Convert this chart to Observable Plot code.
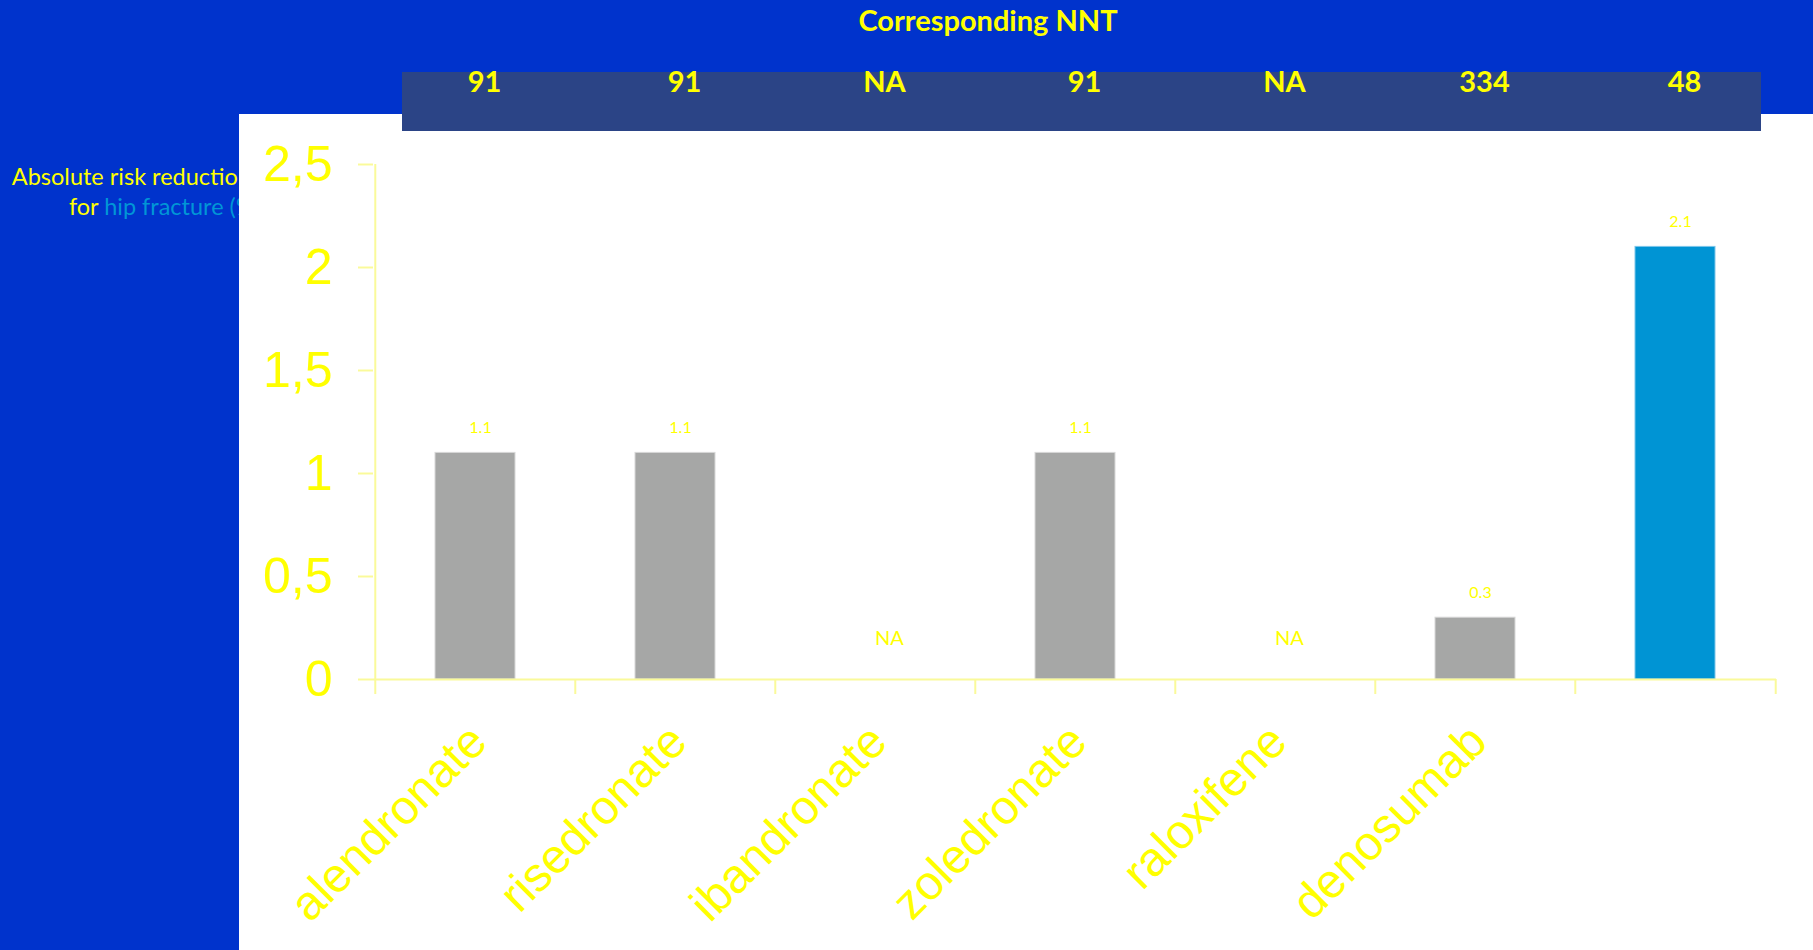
<!DOCTYPE html>
<html>
<head>
<meta charset="utf-8">
<script src="https://cdn.jsdelivr.net/npm/d3@7"></script>
<script src="https://cdn.jsdelivr.net/npm/@observablehq/plot@0.6"></script>
<style>
  html, body { margin: 0; padding: 0; }
  body { width: 1813px; height: 950px; background: #0033CC; position: relative; overflow: hidden; font-family: Lato, "Liberation Sans", sans-serif; }
  #ylabel { position: absolute; left: 0; top: 161px; width: 261px; text-align: right; font-size: 23.5px; line-height: 30px; color: #FFFF00; z-index: 1; white-space: nowrap; }
  #ylabel div.l1 { padding-right: 10px; }
  #ylabel .hl { color: #0096D6; }
  #panel { position: absolute; left: 239px; top: 114px; right: 0; bottom: 0; background: #FFFFFF; z-index: 2; }
  #band { position: absolute; left: 402px; top: 72px; width: 1359px; height: 59px; background: #2B4486; z-index: 3; }
  #title { position: absolute; left: 788px; top: 2px; width: 400px; text-align: center; font-size: 29px; font-weight: bold; color: #FFFF00; z-index: 4; }
  #chart { position: absolute; left: 0; top: 0; z-index: 5; }
</style>
</head>
<body>
<div id="ylabel"><div class="l1">Absolute risk reduction</div><div>for <span class="hl">hip fracture (%)</span></div></div>
<div id="panel"></div>
<div id="band"></div>
<div id="title">Corresponding NNT</div>
<div id="chart"></div>
<script>
// ---- data ----
const drugs = ["alendronate", "risedronate", "ibandronate", "zoledronate", "raloxifene", "denosumab", "new"];
const drugLabels = ["alendronate", "risedronate", "ibandronate", "zoledronate", "raloxifene", "denosumab", ""];
const arrValues = [1.1, 1.1, null, 1.1, null, 0.3, 2.1];
const nntValues = ["91", "91", "NA", "91", "NA", "334", "48"];
const highlighted = [false, false, false, false, false, false, true];
const yTicks = [0, 0.5, 1, 1.5, 2, 2.5];

const rows = drugs.map((d, i) => ({drug: d, label: drugLabels[i], arr: arrValues[i], nnt: nntValues[i], hl: highlighted[i]}));
const withValue = rows.filter(r => r.arr != null);
const missing = rows.filter(r => r.arr == null);

// ---- layout ----
const W = 1813, H = 950;
const mL = 373, mR = 37, mT = 164, mB = 271;
const padIn = 0.6, padOut = 0.3;
const step = (W - mL - mR) / (drugs.length - padIn + 2 * padOut);
const yellow = "#FFFF00";
const axisColor = "#FAFA9A";

const chart = Plot.plot({
  width: W,
  height: H,
  marginLeft: mL,
  marginRight: mR,
  marginTop: mT,
  marginBottom: mB,
  style: {background: "transparent", fontFamily: "Liberation Sans, Arial, sans-serif", color: yellow},
  x: {domain: drugs, paddingInner: padIn, paddingOuter: padOut},
  y: {domain: [0, 2.5]},
  marks: [
    // y axis line
    Plot.ruleX([drugs[0]], {x: d => d, dx: -step / 2, stroke: axisColor, strokeWidth: 2}),
    // y axis ticks + labels
    Plot.axisY({ticks: yTicks, tickSize: 15, tickPadding: 26, tickFormat: d => String(d).replace(".", ","),
      stroke: axisColor, strokeWidth: 2, fill: yellow, fontSize: 50, label: null}),
    // bars
    Plot.barY(withValue, {x: "drug", y: "arr", fill: d => d.hl ? "#0094D4" : "#A6A7A6",
      stroke: d => d.hl ? "#7CC6EA" : "#D8D8D8", strokeWidth: 1}),
    // baseline
    Plot.ruleY([0], {stroke: axisColor, strokeWidth: 2}),
    // x ticks at band boundaries
    Plot.axisX(drugs, {tickSize: 15, dx: -step / 2, tickFormat: () => "", stroke: axisColor, strokeWidth: 2, label: null}),
    Plot.axisX([drugs[drugs.length - 1]], {tickSize: 15, dx: step / 2, tickFormat: () => "", stroke: axisColor, strokeWidth: 2, label: null}),
    // x labels
    Plot.text(rows, {x: "drug", text: "label", frameAnchor: "bottom", dx: 3, dy: 54, rotate: -45,
      textAnchor: "end", lineAnchor: "middle", fontSize: 48, fill: yellow}),
    // value labels
    Plot.text(withValue, {x: "drug", y: "arr", text: d => d.arr.toFixed(1), dx: 5, dy: -25,
      fontSize: 16, fill: yellow, fontFamily: "Lato, sans-serif"}),
    Plot.text(missing, {x: "drug", text: () => "NA", frameAnchor: "bottom", dx: 14, dy: -35,
      fontSize: 20, fill: yellow, fontFamily: "Lato, sans-serif"}),
    // NNT row
    Plot.text(rows, {x: "drug", text: "nnt", frameAnchor: "top", dx: 9, dy: -93,
      fontSize: 29, fontWeight: "bold", fill: yellow, fontFamily: "Lato, sans-serif"})
  ]
});
document.getElementById("chart").appendChild(chart);
</script>
</body>
</html>
